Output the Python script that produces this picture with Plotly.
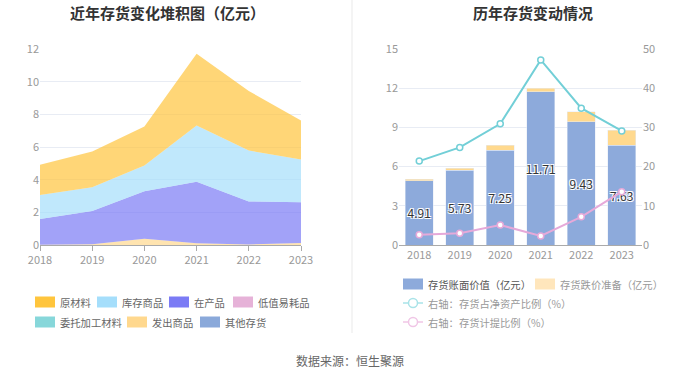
import plotly.graph_objects as go

# ---------------- data ----------------
years = ["2018", "2019", "2020", "2021", "2022", "2023"]

# left: stacked composition (亿元)
raw_material = [1.85, 2.20, 2.39, 4.40, 3.65, 2.39]     # 原材料
stock_goods = [1.47, 1.45, 1.57, 3.43, 3.11, 2.63]      # 库存商品
wip = [1.57, 2.03, 2.90, 3.78, 2.64, 2.49]              # 在产品
low_value = [0, 0, 0, 0, 0, 0]                          # 低值易耗品
consigned = [0, 0, 0, 0, 0, 0]                          # 委托加工材料
shipped = [0.02, 0.05, 0.39, 0.10, 0.03, 0.12]          # 发出商品
other_inv = [0, 0, 0, 0, 0, 0]                          # 其他存货

# right: book value, reserve, ratios
book_value = [4.91, 5.73, 7.25, 11.71, 9.43, 7.63]      # 存货账面价值（亿元）
reserve = [0.12, 0.16, 0.38, 0.28, 0.75, 1.17]          # 存货跌价准备（亿元）
ratio_net_assets = [21.4, 24.9, 30.9, 47.2, 34.9, 29.1] # 存货占净资产比例（%）
ratio_provision = [2.6, 3.0, 5.1, 2.3, 7.2, 13.6]       # 存货计提比例（%）

left_names = ["原材料", "库存商品", "在产品", "低值易耗品", "委托加工材料", "发出商品", "其他存货"]
left_values = [raw_material, stock_goods, wip, low_value, consigned, shipped, other_inv]
right_names = ["存货账面价值（亿元）", "存货跌价准备（亿元）",
               "右轴：存货占净资产比例（%）", "右轴：存货计提比例（%）"]

# ---------------- styles ----------------
FONT = "Noto Sans CJK SC, Noto Sans, sans-serif"
W, H = 700, 377
LEG_SIZE = 10.3
left_swatch = ["#FFC53D", "#A5DEFB", "#7B7BF5", "#E6B2D8", "#87D7DA", "#FFD88E", "#8AA9DA"]
left_fill = ["rgba(255,197,61,0.7)", "rgba(165,222,251,0.7)", "rgba(123,123,245,0.7)",
             "rgba(230,178,216,0.7)", "rgba(135,215,218,0.7)", "rgba(255,216,142,0.7)",
             "rgba(138,169,218,0.7)"]
bar_blue = "#8DAADB"
bar_orange = "#FFD98E"
cyan = "#72CFD7"
pink = "#E6A9D9"


def px(x):
    return x / W


def py(y):
    return 1 - y / H


fig = go.Figure()

# left stacked areas: bottom-most first
stack_order = [6, 5, 4, 3, 2, 1, 0]
for i in stack_order:
    fig.add_trace(go.Scatter(
        x=years, y=left_values[i], name=left_names[i], stackgroup="inv",
        mode="lines", line=dict(width=0, color=left_swatch[i]),
        fillcolor=left_fill[i], showlegend=False, xaxis="x", yaxis="y",
    ))

# right bars
fig.add_trace(go.Bar(
    x=years, y=book_value, name=right_names[0], marker=dict(color=bar_blue),
    text=[f"{v:.2f}" for v in book_value], textposition="inside", textangle=0,
    insidetextanchor="middle", constraintext="none",
    textfont=dict(family=FONT, size=12, color="#333",
                  shadow="1px 1px 0 #fff, -1px -1px 0 #fff, 1px -1px 0 #fff, -1px 1px 0 #fff"),
    showlegend=False, xaxis="x2", yaxis="y2",
))
fig.add_trace(go.Bar(
    x=years, y=reserve, name=right_names[1], marker=dict(color=bar_orange),
    showlegend=False, xaxis="x2", yaxis="y2",
))
fig.add_trace(go.Scatter(
    x=years, y=ratio_net_assets, name=right_names[2], mode="lines+markers",
    line=dict(color=cyan, width=2),
    marker=dict(symbol="circle", size=6, color="white", line=dict(color=cyan, width=1.5)),
    showlegend=False, xaxis="x2", yaxis="y3",
))
fig.add_trace(go.Scatter(
    x=years, y=ratio_provision, name=right_names[3], mode="lines+markers",
    line=dict(color=pink, width=2),
    marker=dict(symbol="circle", size=6, color="white", line=dict(color=pink, width=1.5)),
    showlegend=False, xaxis="x2", yaxis="y3",
))

tickfont = dict(family=FONT, size=11, color="#999")
grid = "#E8ECF4"
ydom = [py(245), py(49)]

fig.update_layout(
    width=W, height=H, autosize=False,
    margin=dict(l=0, r=0, t=0, b=0, pad=0, autoexpand=False),
    paper_bgcolor="white", plot_bgcolor="white",
    font=dict(family=FONT, color="#666"),
    barmode="stack", bargap=0.3,
    xaxis=dict(domain=[px(40), px(301)], anchor="y", type="category", range=[0, 5],
               showgrid=False, showline=True, linecolor="#AAA", ticks="outside",
               ticklen=5, tickcolor="#AAA", tickfont=tickfont, fixedrange=True,
               automargin=False),
    yaxis=dict(domain=ydom, anchor="x", range=[0, 12], dtick=2, showgrid=True,
               gridcolor=grid, zeroline=False, tickfont=tickfont, fixedrange=True,
               automargin=False),
    xaxis2=dict(domain=[px(399), px(642)], anchor="y2", type="category",
                showgrid=False, showline=True, linecolor="#AAA", ticks="",
                tickfont=tickfont, fixedrange=True, automargin=False),
    yaxis2=dict(domain=ydom, anchor="x2", range=[0, 15], dtick=3, showgrid=True,
                gridcolor=grid, zeroline=False, tickfont=tickfont, fixedrange=True,
                automargin=False),
    yaxis3=dict(overlaying="y2", anchor="x2", side="right", range=[0, 50], dtick=10,
                showgrid=False, zeroline=False, tickfont=tickfont, fixedrange=True,
                automargin=False),
    showlegend=False,
)

shapes = []
annotations = []


def label(text, x, y, size, color, xanchor="left"):
    annotations.append(dict(text=text, x=px(x), y=py(y), xanchor=xanchor, yanchor="middle",
                            xref="paper", yref="paper", showarrow=False,
                            font=dict(family=FONT, size=size, color=color)))


# titles
label("<b>近年存货变化堆积图（亿元）</b>", 167, 13, 15, "#333", "center")
label("<b>历年存货变动情况</b>", 533, 13, 15, "#333", "center")
# source
label("数据来源：恒生聚源", 350, 360, 12, "#666", "center")
# separator
shapes.append(dict(type="line", xref="paper", yref="paper", x0=px(352), x1=px(352),
                   y0=py(0), y1=py(333), line=dict(color="#F0F0F0", width=1.5)))

# left legend (manual)
left_pos = [(35, 302), (97, 302), (169, 302), (233, 302), (35, 322), (127, 322), (200, 322)]
for i, (lx, ly) in enumerate(left_pos):
    shapes.append(dict(type="rect", xref="paper", yref="paper",
                       x0=px(lx), x1=px(lx + 20), y0=py(ly + 5.5), y1=py(ly - 5.5),
                       fillcolor=left_swatch[i], line=dict(width=0)))
    label(left_names[i], lx + 23, ly, LEG_SIZE, "#666")

# right legend (manual)
rect_pos = [(403, 284), (535, 284)]
rect_cols = [bar_blue, "#FFE6BC"]
for i, (lx, ly) in enumerate(rect_pos):
    shapes.append(dict(type="rect", xref="paper", yref="paper",
                       x0=px(lx), x1=px(lx + 20), y0=py(ly + 5.5), y1=py(ly - 5.5),
                       fillcolor=rect_cols[i], line=dict(width=0)))
    label(right_names[i], lx + 23, ly, LEG_SIZE, "#555" if i == 0 else "#999")
line_pos = [(403, 303), (403, 322)]
line_cols = ["#A9E3E8", "#F0C6E6"]
for j, (lx, ly) in enumerate(line_pos):
    shapes.append(dict(type="line", xref="paper", yref="paper",
                       x0=px(lx), x1=px(lx + 20), y0=py(ly), y1=py(ly),
                       line=dict(color=line_cols[j], width=1.5)))
    shapes.append(dict(type="circle", xref="paper", yref="paper",
                       x0=px(lx + 5.5), x1=px(lx + 14.5), y0=py(ly + 4.5), y1=py(ly - 4.5),
                       fillcolor="white", line=dict(color=line_cols[j], width=1.5)))
    label(right_names[2 + j], lx + 23, ly, LEG_SIZE, "#999")

fig.update_layout(shapes=shapes, annotations=annotations)

fig.write_html("out.html", config={"displayModeBar": False},
               post_script="document.body.style.margin='0';")
